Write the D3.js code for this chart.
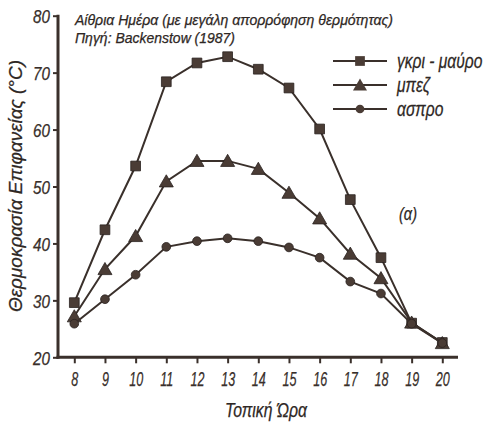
<!DOCTYPE html>
<html>
<head>
<meta charset="utf-8">
<script src="https://cdn.jsdelivr.net/npm/d3@7"></script>
<style>
  body { margin: 0; background: #fff; }
  svg text { font-family: "Liberation Sans", Arial, sans-serif; font-style: italic; fill: #2e2724; stroke: #2e2724; stroke-width: 0.25px; }
</style>
</head>
<body>
<svg id="chart" width="489" height="423"></svg>
<script>
// data
const hours = [8, 9, 10, 11, 12, 13, 14, 15, 16, 17, 18, 19, 20];
const gray_black = [29.6, 42.4, 53.6, 68.4, 71.7, 72.8, 70.6, 67.3, 60.1, 47.7, 37.5, 26.0, 22.6];
const beige = [27.2, 35.5, 41.3, 50.9, 54.5, 54.5, 53.1, 48.9, 44.4, 38.2, 33.9, 26.1, 22.5];
const white = [25.9, 30.2, 34.5, 39.4, 40.4, 40.9, 40.4, 39.3, 37.5, 33.3, 31.2, 25.9, 22.5];
const y_ticks = [20, 30, 40, 50, 60, 70, 80];
const series_names = ["γκρι - μαύρο", "μπεζ", "ασπρο"];

// narrow the text like the condensed face of the original
function squeeze(sel, factor) {
    sel.each(function() {
        const w = this.getComputedTextLength();
        d3.select(this).attr("textLength", w * factor).attr("lengthAdjust", "spacingAndGlyphs");
    });
}

function draw_chart() {
    const svg = d3.select("#chart");
    const ink = "#3a302b";

    const x = d3.scaleLinear().domain([8, 20]).range([74.3, 442.3]);
    const y = d3.scaleLinear().domain([20, 80]).range([357.3, 15.7]);

    const series = [
        {name: series_names[0], values: gray_black, marker: "square"},
        {name: series_names[1], values: beige, marker: "triangle"},
        {name: series_names[2], values: white, marker: "circle"}
    ];

    const symbols = {
        square: d3.symbol().type(d3.symbolSquare).size(95),
        triangle: d3.symbol().type(d3.symbolTriangle).size(85),
        circle: d3.symbol().type(d3.symbolCircle).size(60)
    };

    // axes
    const x_axis = svg.append("g")
        .attr("transform", `translate(0,${y(20)})`)
        .call(d3.axisBottom(x).tickValues(hours).tickSize(6).tickPadding(8).tickFormat(d3.format("d")));
    x_axis.select(".domain").remove();
    x_axis.selectAll(".tick line").attr("stroke", ink).attr("stroke-width", 2);
    x_axis.selectAll("text").attr("font-size", 21).attr("font-family", null).style("fill", ink);
    squeeze(x_axis.selectAll("text"), 0.6);

    const y_axis = svg.append("g")
        .attr("transform", `translate(58,0)`)
        .call(d3.axisLeft(y).tickValues(y_ticks).tickSize(5).tickPadding(3));
    y_axis.select(".domain").remove();
    y_axis.selectAll(".tick line").attr("stroke", ink).attr("stroke-width", 2);
    y_axis.selectAll("text").attr("font-size", 19).attr("font-family", null).attr("dy", "0.36em").style("fill", ink);
    squeeze(y_axis.selectAll("text"), 0.8);

    svg.append("line")
        .attr("x1", 58).attr("x2", 58)
        .attr("y1", y(80) - 1).attr("y2", y(20) + 1.5)
        .attr("stroke", ink).attr("stroke-width", 3);
    svg.append("line")
        .attr("x1", 56.5).attr("x2", 458)
        .attr("y1", y(20)).attr("y2", y(20))
        .attr("stroke", ink).attr("stroke-width", 3);

    // lines + markers
    const line = d3.line().x((d, i) => x(hours[i])).y(d => y(d));

    series.forEach(s => {
        svg.append("path")
            .datum(s.values)
            .attr("fill", "none")
            .attr("stroke", ink)
            .attr("stroke-width", 2)
            .attr("d", line);
        svg.append("g")
            .selectAll("path")
            .data(s.values)
            .join("path")
            .attr("transform", (d, i) => `translate(${x(hours[i])},${y(d) + (s.marker === "triangle" ? 1.5 : 0)})`)
            .attr("d", symbols[s.marker])
            .attr("fill", "#4a3c35")
            .attr("stroke", "#2a221f")
            .attr("stroke-width", 0.8);
    });

    // legend
    const legend = svg.append("g");
    series.forEach((s, i) => {
        const ly = 61 + i * 24;
        legend.append("line")
            .attr("x1", 333).attr("x2", 387)
            .attr("y1", ly).attr("y2", ly)
            .attr("stroke", ink).attr("stroke-width", 2);
        legend.append("path")
            .attr("transform", `translate(360,${ly + (s.marker === "triangle" ? 1.5 : 0)})`)
            .attr("d", symbols[s.marker])
            .attr("fill", "#4a3c35");
        legend.append("text")
            .attr("transform", `translate(397,${ly}) scale(0.78,1)`)
            .attr("dy", "0.35em")
            .attr("font-size", 20)
            .text(s.name);
    });

    // notes
    svg.append("text").attr("x", 75).attr("y", 25).attr("font-size", 14)
        .attr("textLength", 318).attr("lengthAdjust", "spacingAndGlyphs")
        .text("Αίθρια Ημέρα (με μεγάλη απορρόφηση θερμότητας)");
    svg.append("text").attr("x", 75).attr("y", 43).attr("font-size", 14)
        .attr("textLength", 160).attr("lengthAdjust", "spacingAndGlyphs")
        .text("Πηγή: Backenstow (1987)");
    svg.append("text").attr("x", 399).attr("y", 220).attr("font-size", 18)
        .attr("textLength", 18).attr("lengthAdjust", "spacingAndGlyphs")
        .text("(α)");

    // axis titles
    svg.append("text")
        .attr("x", 266).attr("y", 417)
        .attr("text-anchor", "middle")
        .attr("font-size", 20)
        .attr("textLength", 82).attr("lengthAdjust", "spacingAndGlyphs")
        .text("Τοπική Ώρα");
    svg.append("text")
        .attr("transform", "translate(22,186) rotate(-90)")
        .attr("text-anchor", "middle")
        .attr("font-size", 19)
        .attr("textLength", 252).attr("lengthAdjust", "spacingAndGlyphs")
        .text("Θερμοκρασία Επιφανείας (°C)");
}

draw_chart();
</script>
</body>
</html>
